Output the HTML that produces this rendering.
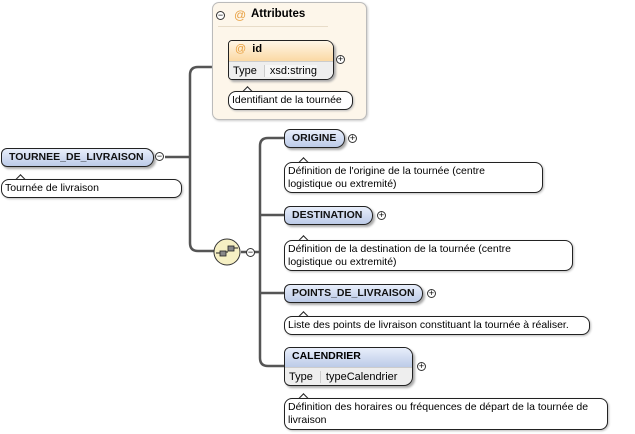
<!DOCTYPE html>
<html><head><meta charset="utf-8"><style>
body{margin:0;width:635px;height:434px;background:#fff;position:relative;overflow:hidden;font-family:"Liberation Sans",sans-serif;font-size:11px;color:#000}
.a{position:absolute;box-sizing:border-box}
.el{border:1px solid #222;border-radius:6px 9px 9px 6px;background:linear-gradient(#e8eefb,#bccbe8);box-shadow:2px 2px 2px #aaa;padding:2px 0 0 7px;height:19px;font-size:10.5px;font-weight:bold;color:#111}
.cm{border:1px solid #222;border-radius:8px;background:#fff;padding:2px 3px;font-size:10.5px;line-height:13px;box-shadow:1px 1px 2px #bbb}
.tip{position:absolute;width:8px;height:8px;background:#fff;border-left:1px solid #222;border-top:1px solid #222;transform:rotate(45deg)}
.pl{position:absolute;width:9px;height:9px;border:1px solid #333;border-radius:50%;box-sizing:border-box;background:#fff;font-size:9px;line-height:7px;text-align:center}
</style></head><body>
<svg class="a" style="left:0;top:0" width="635" height="434">
<g fill="none" stroke="#555" stroke-width="2.5">
<path d="M165 157 H190"/>
<path d="M212 67 H198 Q190 67 190 75 V243 Q190 251 198 251 H214"/>
<path d="M241 252 H260"/>
<path d="M284 138 H268 Q260 138 260 146 V358 Q260 366 268 366 H284"/>
<path d="M260 215 H284"/><path d="M260 293 H284"/>
</g>
<circle cx="227" cy="252" r="13" fill="#f6f0c4" stroke="#333" stroke-width="1"/>
<g fill="#888" stroke="#222" stroke-width="0.8"><rect x="220" y="251" width="6" height="5"/><rect x="228" y="246" width="6" height="5"/></g>
<path d="M216 253 H220 M226 252 H228 M234 248 H238" stroke="#222"/>
</svg>
<div class="a" style="left:212px;top:2px;width:155px;height:118px;border:1px solid #bbb;border-radius:7px;background:#fdf6ea;box-shadow:1px 1px 2px #ccc"></div>
<div class="pl" style="left:216px;top:11px">−</div>
<div class="a" style="left:234px;top:8px;color:#e8a040;font-size:12px">@</div>
<div class="a" style="left:251px;top:8px;font-size:11.5px;font-weight:bold">Attributes</div>
<div class="a" style="left:218px;top:26px;width:110px;height:1px;background:#e8dcc8"></div>
<div class="a" style="left:228px;top:40px;width:106px;height:40px;border:1px solid #222;border-radius:4px 8px 8px 4px;background:#fff;box-shadow:2px 2px 2px #aaa;overflow:hidden">
<div style="height:20px;background:linear-gradient(#fff6e6,#fbd9a4);padding:2px 0 0 6px;box-sizing:border-box;font-weight:bold"><span style="color:#e8a040;font-weight:normal">@</span>&nbsp; id</div>
<div style="height:18px;background:#eee;padding:3px 0 0 4px;box-sizing:border-box;border-top:1px solid #ccc">Type <span style="display:inline-block;border-left:1px solid #ccc;padding-left:5px;margin-left:4px;background:#f6f6f6">xsd:string</span></div>
</div>
<div class="pl" style="left:336px;top:55px">+</div>
<div class="tip" style="left:243px;top:88px"></div>
<div class="a cm" style="left:228px;top:91px;width:125px;height:19px;padding-top:2px">Identifiant de la tournée</div>

<div class="a el" style="left:1px;top:148px;width:153px">TOURNEE_DE_LIVRAISON</div>
<div class="pl" style="left:155px;top:152px">−</div>
<div class="tip" style="left:16px;top:176px"></div>
<div class="a cm" style="left:1px;top:179px;width:181px;height:19px">Tournée de livraison</div>

<div class="pl" style="left:246px;top:248px">−</div>

<div class="a el" style="left:284px;top:129px;width:61px">ORIGINE</div>
<div class="pl" style="left:348px;top:134px">+</div>
<div class="tip" style="left:299px;top:159px"></div>
<div class="a cm" style="left:284px;top:162px;width:259px;height:31px">Définition de l'origine de la tournée (centre<br>logistique ou extremité)</div>

<div class="a el" style="left:284px;top:206px;width:89px">DESTINATION</div>
<div class="pl" style="left:377px;top:211px">+</div>
<div class="tip" style="left:299px;top:237px"></div>
<div class="a cm" style="left:284px;top:240px;width:289px;height:31px">Définition de la destination de la tournée (centre<br>logistique ou extremité)</div>

<div class="a el" style="left:284px;top:284px;width:139px">POINTS_DE_LIVRAISON</div>
<div class="pl" style="left:427px;top:289px">+</div>
<div class="tip" style="left:299px;top:313px"></div>
<div class="a cm" style="left:284px;top:316px;width:306px;height:19px">Liste des points de livraison constituant la tournée à réaliser.</div>

<div class="a" style="left:284px;top:347px;width:129px;height:39px;border:1px solid #222;border-radius:6px 9px 9px 6px;box-shadow:2px 2px 2px #aaa;overflow:hidden;background:#eee">
<div style="height:19px;background:linear-gradient(#e8eefb,#bccbe8);padding:2px 0 0 7px;box-sizing:border-box;font-weight:bold;font-size:10.5px">CALENDRIER</div>
<div style="height:18px;padding:3px 0 0 4px;box-sizing:border-box;border-top:1px solid #ccc">Type <span style="display:inline-block;border-left:1px solid #ccc;padding-left:5px;margin-left:4px">typeCalendrier</span></div>
</div>
<div class="pl" style="left:417px;top:362px">+</div>
<div class="tip" style="left:299px;top:395px"></div>
<div class="a cm" style="left:284px;top:398px;width:324px;height:32px">Définition des horaires ou fréquences de départ de la tournée de<br>livraison</div>
</body></html>
